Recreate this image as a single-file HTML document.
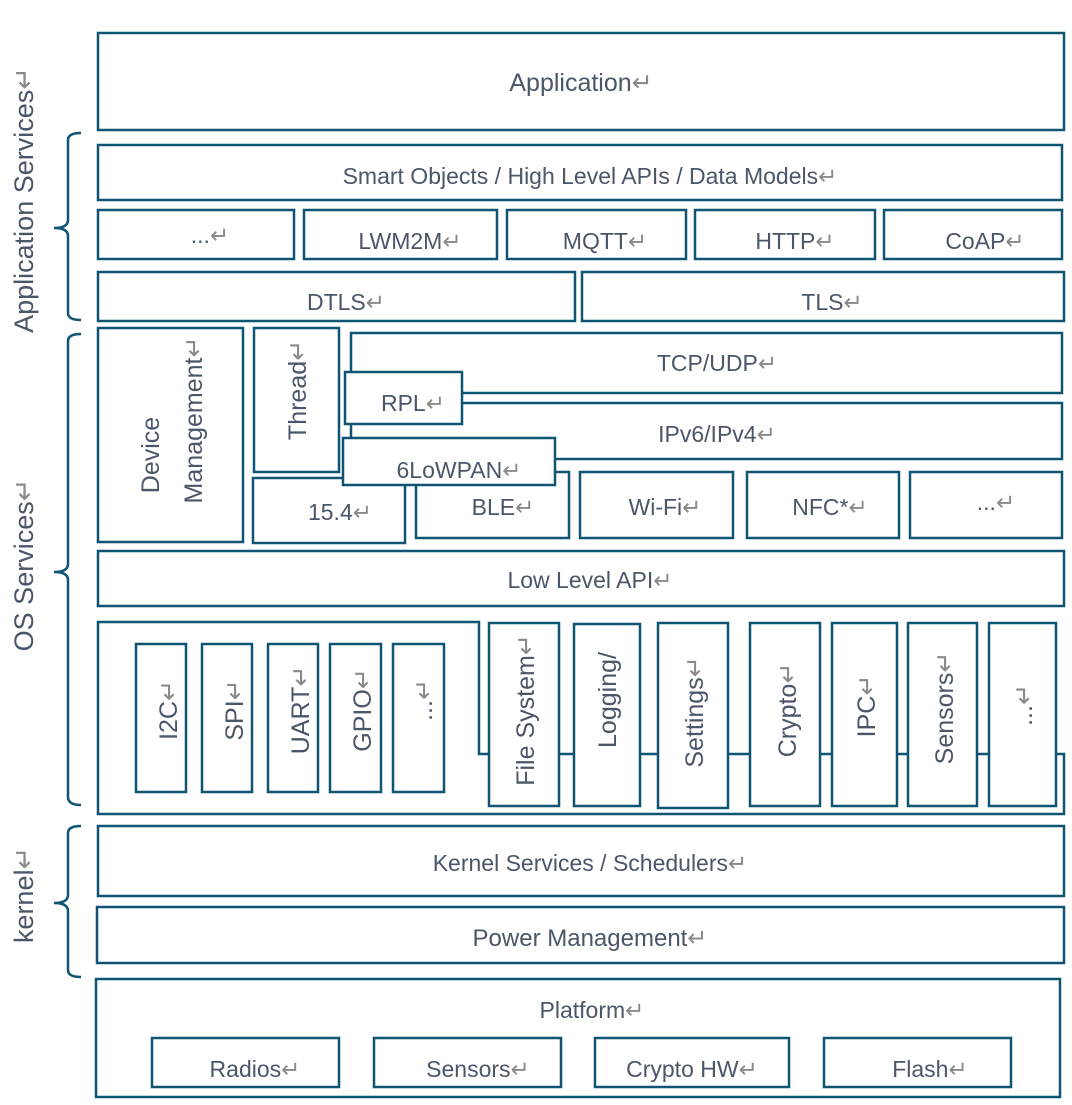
<!DOCTYPE html>
<html><head><meta charset="utf-8"><style>
html,body{margin:0;padding:0;background:#fff;}
svg{display:block;}
text{font-family:"Liberation Sans","DejaVu Sans",sans-serif;fill:#4b5669;}
.r{fill:none;stroke:#0f5473;stroke-width:2.5;}
.a{fill:#8a8a8a;font-family:"DejaVu Sans",sans-serif;}
</style></head><body>
<svg width="1072" height="1105" viewBox="0 0 1072 1105" xmlns="http://www.w3.org/2000/svg">
<g class="r">
<rect x="98" y="33" width="966" height="97"/>
<rect x="98" y="145" width="964" height="55"/>
<rect x="98" y="210" width="196" height="49"/>
<rect x="304" y="210" width="193" height="49"/>
<rect x="507" y="210" width="179" height="49"/>
<rect x="695" y="210" width="180" height="49"/>
<rect x="884" y="210" width="178" height="49"/>
<rect x="98" y="272" width="477" height="49"/>
<rect x="582" y="272" width="482" height="49"/>
<rect x="98" y="328" width="145" height="214"/>
<rect x="254" y="328" width="85" height="144"/>
<rect x="351" y="333" width="711" height="60"/>
<rect x="351" y="403" width="711" height="56"/>
<rect x="253" y="478" width="152" height="65"/>
<rect x="416" y="472" width="153" height="66"/>
<rect x="580" y="472" width="153" height="66"/>
<rect x="747" y="472" width="152" height="66"/>
<rect x="910" y="472" width="152" height="66"/>
<rect x="345" y="372" width="117" height="52" fill="#fff"/>
<rect x="343" y="438" width="212" height="47" fill="#fff"/>
<rect x="98" y="551" width="966" height="55"/>
<path d="M98 622 H479 V754 H1064 V814 H98 Z"/>
<rect x="136" y="644" width="50" height="148" fill="#fff"/>
<rect x="202" y="644" width="50" height="148" fill="#fff"/>
<rect x="268" y="644" width="50" height="148" fill="#fff"/>
<rect x="330" y="644" width="51" height="148" fill="#fff"/>
<rect x="393" y="644" width="51" height="148" fill="#fff"/>
<rect x="489" y="623" width="70" height="183" fill="#fff"/>
<rect x="574" y="624" width="66" height="182" fill="#fff"/>
<rect x="658" y="623" width="70" height="185" fill="#fff"/>
<rect x="750" y="623" width="70" height="183" fill="#fff"/>
<rect x="832" y="623" width="65" height="183" fill="#fff"/>
<rect x="908" y="623" width="69" height="183" fill="#fff"/>
<rect x="989" y="623" width="67" height="183" fill="#fff"/>
<rect x="98" y="826" width="966" height="70"/>
<rect x="97" y="907" width="967" height="56"/>
<rect x="96" y="979" width="964" height="118"/>
<rect x="152" y="1038" width="187" height="49"/>
<rect x="374" y="1038" width="187" height="49"/>
<rect x="595" y="1038" width="194" height="49"/>
<rect x="824" y="1038" width="187" height="49"/>
<path d="M81 133 Q68 133 68 140 V220 Q68 228 54 228 Q68 228 68 236 V313 Q68 320 81 320"/>
<path d="M81 334 Q68 334 68 341 V564 Q68 572 54 572 Q68 572 68 580 V797 Q68 805 81 805"/>
<path d="M81 826 Q68 826 68 833 V895 Q68 903 54 903 Q68 903 68 911 V970 Q68 977 81 977"/>
</g>
<g font-size="23" text-anchor="middle">
<text x="581" y="91" font-size="25">Application<tspan class="a">↵</tspan></text>
<text x="590" y="184">Smart Objects / High Level APIs / Data Models<tspan class="a">↵</tspan></text>
<text x="210" y="243">...<tspan class="a">↵</tspan></text>
<text x="410" y="249">LWM2M<tspan class="a">↵</tspan></text>
<text x="605" y="249">MQTT<tspan class="a">↵</tspan></text>
<text x="795" y="249">HTTP<tspan class="a">↵</tspan></text>
<text x="985" y="249">CoAP<tspan class="a">↵</tspan></text>
<text x="346" y="310">DTLS<tspan class="a">↵</tspan></text>
<text x="832" y="310">TLS<tspan class="a">↵</tspan></text>
<text x="717" y="371">TCP/UDP<tspan class="a">↵</tspan></text>
<text x="717" y="442">IPv6/IPv4<tspan class="a">↵</tspan></text>
<text x="413" y="411">RPL<tspan class="a">↵</tspan></text>
<text x="459" y="478">6LoWPAN<tspan class="a">↵</tspan></text>
<text x="340" y="520">15.4<tspan class="a">↵</tspan></text>
<text x="503" y="515">BLE<tspan class="a">↵</tspan></text>
<text x="665" y="515">Wi-Fi<tspan class="a">↵</tspan></text>
<text x="830" y="515">NFC*<tspan class="a">↵</tspan></text>
<text x="996" y="510">...<tspan class="a">↵</tspan></text>
<text x="590" y="588">Low Level API<tspan class="a">↵</tspan></text>
<text x="590" y="871">Kernel Services / Schedulers<tspan class="a">↵</tspan></text>
<text x="590" y="946" font-size="24">Power Management<tspan class="a">↵</tspan></text>
<text x="592" y="1018">Platform<tspan class="a">↵</tspan></text>
<text x="255" y="1077">Radios<tspan class="a">↵</tspan></text>
<text x="478" y="1077">Sensors<tspan class="a">↵</tspan></text>
<text x="692" y="1077">Crypto HW<tspan class="a">↵</tspan></text>
<text x="930" y="1077">Flash<tspan class="a">↵</tspan></text>
</g>
<g font-size="25" text-anchor="middle">
<text transform="translate(159,455) rotate(-90)">Device</text>
<text transform="translate(202,420) rotate(-90)">Management<tspan class="a">↵</tspan></text>
<text transform="translate(306,390) rotate(-90)">Thread<tspan class="a">↵</tspan></text>
<text transform="translate(177,710) rotate(-90)">I2C<tspan class="a">↵</tspan></text>
<text transform="translate(243,710) rotate(-90)">SPI<tspan class="a">↵</tspan></text>
<text transform="translate(309,710) rotate(-90)">UART<tspan class="a">↵</tspan></text>
<text transform="translate(371,710) rotate(-90)">GPIO<tspan class="a">↵</tspan></text>
<text transform="translate(432,700) rotate(-90)">...<tspan class="a">↵</tspan></text>
<text transform="translate(534,710) rotate(-90)">File System<tspan class="a">↵</tspan></text>
<text transform="translate(616,700) rotate(-90)">Logging/</text>
<text transform="translate(703,712) rotate(-90)">Settings<tspan class="a">↵</tspan></text>
<text transform="translate(796,710) rotate(-90)">Crypto<tspan class="a">↵</tspan></text>
<text transform="translate(875,706) rotate(-90)">IPC<tspan class="a">↵</tspan></text>
<text transform="translate(953,708) rotate(-90)">Sensors<tspan class="a">↵</tspan></text>
<text transform="translate(1032,705) rotate(-90)">...<tspan class="a">↵</tspan></text>
<text transform="translate(33,200) rotate(-90)" font-size="27">Application Services<tspan class="a">↵</tspan></text>
<text transform="translate(33,565) rotate(-90)" font-size="27">OS Services<tspan class="a">↵</tspan></text>
<text transform="translate(33,895) rotate(-90)" font-size="27">kernel<tspan class="a">↵</tspan></text>
</g>
</svg>
</body></html>
